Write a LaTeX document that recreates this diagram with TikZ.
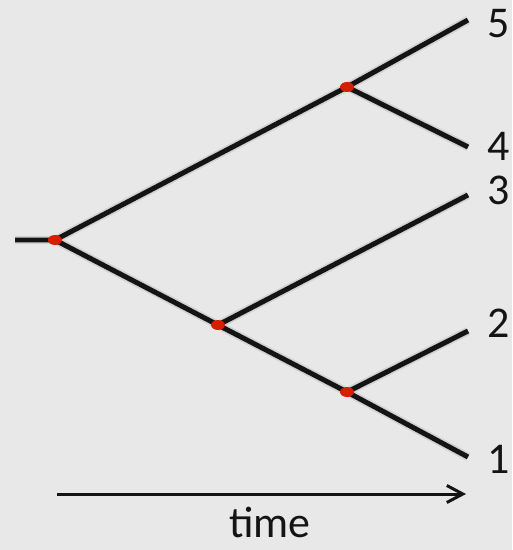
\documentclass[tikz,border=0pt]{standalone}
\usepackage{fontspec}
\setmainfont{Carlito}
\usepackage{tikz}
\usetikzlibrary{shapes.geometric, arrows.meta, positioning}
\definecolor{mybg}{RGB}{232,232,232}
\definecolor{mydark}{RGB}{20,20,20}
\definecolor{myred}{RGB}{214,30,0}
\definecolor{myshadow}{RGB}{196,196,196}
\tikzset{
  branch/.style={line width=0.1cm, color=mydark},
  shadowline/.style={line width=0.17cm, color=myshadow, opacity=0.6},
  junc/.style={ellipse, fill=myred, minimum width=0.28cm, minimum height=0.2cm, inner sep=0pt},
  leaflabel/.style={font=\fontsize{25}{30}\selectfont, color=mydark, inner sep=0pt},
  timearrow/.style={-{Straight Barb[length=0.32cm, width=0.34cm]}, line width=0.06cm, color=mydark}
}
\begin{document}
\begin{tikzpicture}[x=0.02cm, y=-0.02cm]

  % Background
  \fill[mybg] (0,0) rectangle (512,550);
  \useasboundingbox (0,0) rectangle (512,550);

  % Root and internal nodes
  \coordinate (s) at (15,240);
  \coordinate (r) at (55,240);
  \coordinate (a) at (347,87);
  \coordinate (b) at (218,325);
  \coordinate (c) at (347,392);

  % Leaves
  \coordinate (t5) at (468,20);
  \coordinate (t4) at (468,147);
  \coordinate (t3) at (468,195);
  \coordinate (t2) at (468,331);
  \coordinate (t1) at (468,457);

  % Shadows
  \begin{scope}[shift={(3,5)}]
    \draw[shadowline] (s) -- (r) -- (a) -- (t5);
    \draw[shadowline] (a) -- (t4);
    \draw[shadowline] (r) -- (b) -- (c) -- (t1);
    \draw[shadowline] (b) -- (t3);
    \draw[shadowline] (c) -- (t2);
  \end{scope}

  % Branches
  \draw[branch] (s) -- (r) -- (a) -- (t5);
  \draw[branch] (a) -- (t4);
  \draw[branch] (r) -- (b) -- (c) -- (t1);
  \draw[branch] (b) -- (t3);
  \draw[branch] (c) -- (t2);

  % Splits
  \node[junc] (rd) at (r) {};
  \node[junc] (ad) at (a) {};
  \node[junc] (bd) at (b) {};
  \node[junc] (cd) at (c) {};

  % Leaf labels
  \node[leaflabel] (l5) at (499,24) {5};
  \node[leaflabel] (l4) at (499,146) {4};
  \node[leaflabel] (l3) at (499,190) {3};
  \node[leaflabel] (l2) at (499,323) {2};
  \node[leaflabel] (l1) at (499,459) {1};

  % Time axis
  \coordinate (t0) at (57,494);
  \coordinate (t9) at (466,494);
  \draw[timearrow] (t0) -- (t9);
  \node[leaflabel] (time) at (270,522) {time};
\end{tikzpicture}
\end{document}
